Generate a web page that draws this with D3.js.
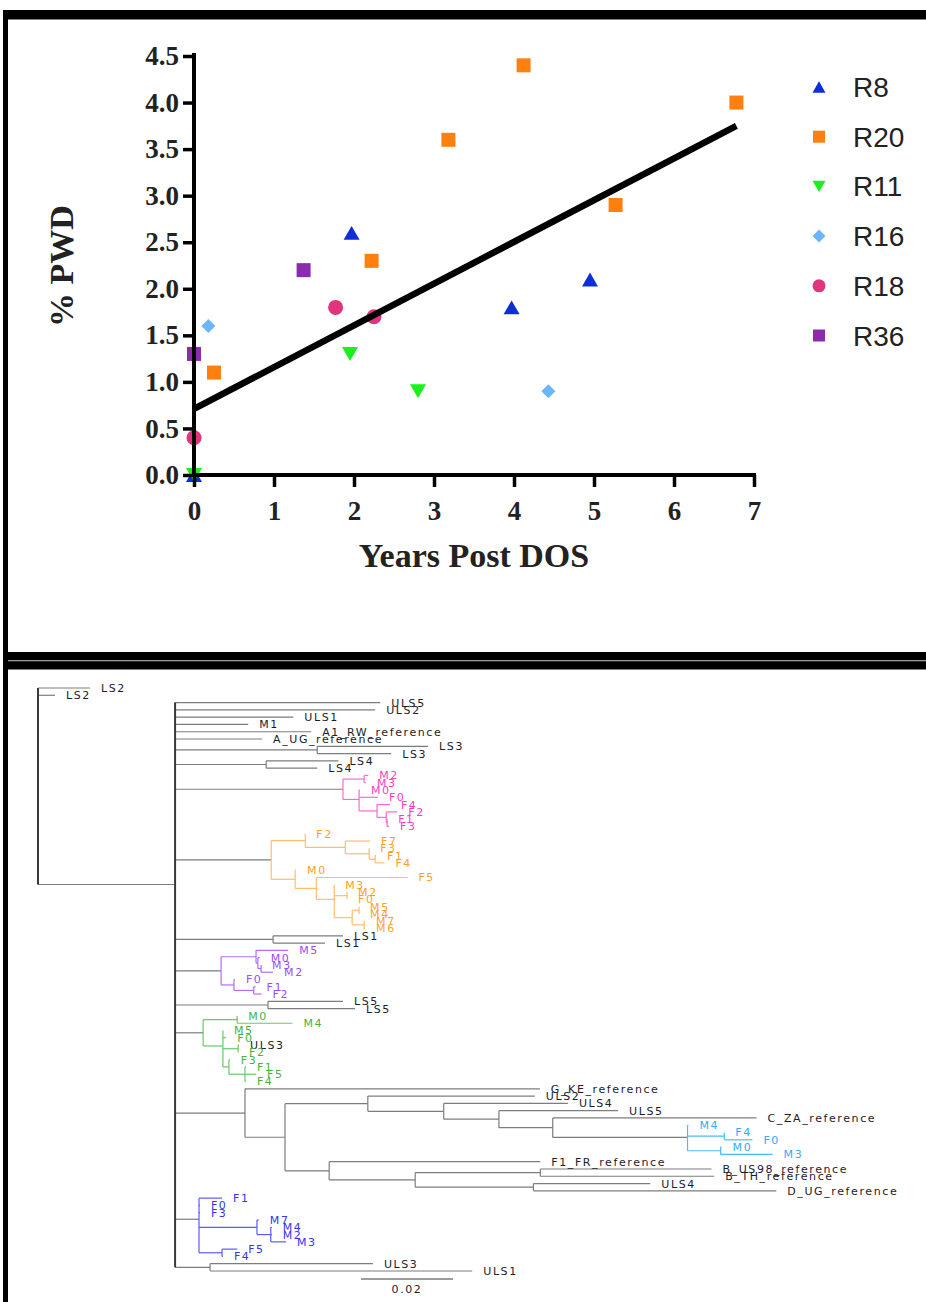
<!DOCTYPE html>
<html><head><meta charset="utf-8">
<script src="https://cdn.jsdelivr.net/npm/d3@7"></script>
<style>body{margin:0;background:#fff}</style>
</head><body><svg id="c" width="926" height="1302"></svg>
<script>
// ---------------- scatter data ----------------
const seriesNames = ["R8","R20","R11","R16","R18","R36"];
const r8Years  = [0, 1.97, 3.97, 4.95];            const r8Pwd  = [0, 2.6, 1.8, 2.1];
const r20Years = [0.25, 2.22, 3.18, 4.12, 5.27, 6.78]; const r20Pwd = [1.1, 2.3, 3.6, 4.4, 2.9, 4.0];
const r11Years = [0, 1.95, 2.8];                   const r11Pwd = [0, 1.3, 0.9];
const r16Years = [0.18, 4.43];                     const r16Pwd = [1.6, 0.9];
const r18Years = [0, 1.77, 2.25];                  const r18Pwd = [0.4, 1.8, 1.7];
const r36Years = [0, 1.37];                        const r36Pwd = [1.3, 2.2];
const fitYears = [0, 6.78];                        const fitPwd = [0.71, 3.75];
const xTicks = [0,1,2,3,4,5,6,7];
const yTicks = [0,0.5,1,1.5,2,2.5,3,3.5,4,4.5];
const xTitle = "Years Post DOS";
const yTitle = "% PWD";

// ---------------- tree data: [id, parent, branch length, label, clade, labelColourOverride] ----------------
const treeNodes = [
 ["root",null,0,"",""],
 ["n_ls2a","root",0.0113,"LS2",""],
 ["n_ls2b","root",0.0037,"LS2",""],
 ["main","root",0.0298,"",""],
 ["t1","main",0.0446,"ULS5",""],
 ["t2","main",0.0435,"ULS2",""],
 ["t3","main",0.0257,"ULS1",""],
 ["t4","main",0.0159,"M1",""],
 ["t5","main",0.0296,"A1_RW_reference",""],
 ["t6","main",0.0189,"A_UG_reference",""],
 ["ls3","main",0.0309,"",""],
 ["t7","ls3",0.0241,"LS3",""],
 ["t8","ls3",0.0161,"LS3",""],
 ["ls4","main",0.0198,"",""],
 ["t9","ls4",0.0157,"LS4",""],
 ["t10","ls4",0.0111,"LS4",""],
 ["p0","main",0.0365,"","pink"],
 ["pA","p0",0.0046,"","pink"],
 ["p1","pA",0.0009,"M2","pink"],
 ["p2","pA",0.0004,"M3","pink"],
 ["pB","p0",0.0035,"","pink"],
 ["p3","pB",0.0002,"M0","pink"],
 ["p4","pB",0.0041,"F0","pink"],
 ["pC","pB",0.0039,"","pink"],
 ["p5","pC",0.0028,"F4","pink"],
 ["pD","pC",0.0020,"","pink"],
 ["p6","pD",0.0024,"F2","pink"],
 ["pE","pD",0.0002,"","pink"],
 ["p7","pE",0,"F1","pink"],
 ["p8","pE",0.0004,"F3","pink"],
 ["o0","main",0.0209,"","orange"],
 ["oP","o0",0.0074,"","orange"],
 ["o1","oP",0,"F2","orange"],
 ["oR","oP",0.0087,"","orange"],
 ["o2","oR",0.0054,"F7","orange"],
 ["oS","oR",0.0052,"","orange"],
 ["o3","oS",0,"F3","orange"],
 ["oT","oS",0.0013,"","orange"],
 ["o4","oT",0.0002,"F1","orange"],
 ["o5","oT",0.0020,"F4","orange"],
 ["oQ","o0",0.0052,"","orange"],
 ["o6","oQ",0.0002,"M0","orange"],
 ["oU","oQ",0.0046,"","orange"],
 ["o7","oU",0.0198,"F5","orange"],
 ["oV","oU",0.0039,"","orange"],
 ["o8","oV",0,"M3","orange"],
 ["oW","oV",0.0028,"","orange"],
 ["o9","oW",0,"M2","orange"],
 ["o10","oW",0,"F0","orange"],
 ["oX","oV",0.0039,"","orange"],
 ["oY","oX",0.0015,"","orange"],
 ["o11","oY",0,"M5","orange"],
 ["o12","oY",0,"M4","orange"],
 ["oZ","oX",0.0026,"","orange"],
 ["o13","oZ",0.0002,"M7","orange"],
 ["o14","oZ",0.0002,"M6","orange"],
 ["ls1","main",0.0213,"",""],
 ["t11","ls1",0.0152,"LS1",""],
 ["t12","ls1",0.0113,"LS1",""],
 ["u0","main",0.0100,"","purple"],
 ["uA","u0",0.0076,"","purple"],
 ["u1","uA",0.0070,"M5","purple"],
 ["uA2","uA",0.0004,"","purple"],
 ["u2","uA2",0.0004,"M0","purple"],
 ["uA3","uA2",0.0007,"","purple"],
 ["u3","uA3",0,"M3","purple"],
 ["u4","uA3",0.0026,"M2","purple"],
 ["uB","u0",0.0028,"","purple"],
 ["u5","uB",0.0002,"F0","purple"],
 ["uB2","uB",0.0043,"","purple"],
 ["u6","uB2",0.0004,"F1","purple"],
 ["u7","uB2",0.0017,"F2","purple"],
 ["ls5","main",0.0202,"",""],
 ["t13","ls5",0.0163,"LS5",""],
 ["t14","ls5",0.0189,"LS5",""],
 ["g0","main",0.0061,"","green"],
 ["gA","g0",0.0074,"","green"],
 ["g1","gA",0,"M0","green"],
 ["g2","gA",0.0120,"M4","green"],
 ["gB","g0",0.0043,"","green"],
 ["g3","gB",0,"M5","green"],
 ["g4","gB",0.0007,"F0","green"],
 ["gC","gB",0.0033,"","green"],
 ["g5","gC",0.0002,"ULS3","green","k"],
 ["g6","gC",0,"F2","green"],
 ["gD","gB",0.0013,"","green"],
 ["g7","gD",0.0002,"F3","green"],
 ["gE","gD",0.0035,"","green"],
 ["g8","gE",0.0002,"F1","green"],
 ["g9","gE",0.0024,"F5","green"],
 ["g10","gE",0.0002,"F4","green"],
 ["r0","main",0.0152,"",""],
 ["t15","r0",0.0641,"G_KE_reference",""],
 ["r1","r0",0.0087,"",""],
 ["r2","r1",0.0180,"",""],
 ["t16","r2",0.0363,"ULS2",""],
 ["r4","r2",0.0165,"",""],
 ["t17","r4",0.0270,"ULS4",""],
 ["r5","r4",0.0120,"",""],
 ["t18","r5",0.0259,"ULS5",""],
 ["r6","r5",0.0117,"",""],
 ["t19","r6",0.0443,"C_ZA_reference",""],
 ["c0","r6",0.0293,"","cyan"],
 ["c1","c0",0.0002,"M4","cyan"],
 ["cK1","c0",0.0080,"","cyan"],
 ["c2","cK1",0,"F4","cyan"],
 ["c3","cK1",0.0061,"F0","cyan"],
 ["cK2","c0",0.0072,"","cyan"],
 ["c4","cK2",0.0002,"M0","cyan"],
 ["c5","cK2",0.0113,"M3","cyan"],
 ["r3","r1",0.0096,"",""],
 ["t20","r3",0.0459,"F1_FR_reference",""],
 ["r7","r3",0.0187,"",""],
 ["r8","r7",0.0272,"",""],
 ["t21","r8",0.0372,"B_US98_reference",""],
 ["t22","r8",0.0378,"B_TH_reference",""],
 ["r9","r7",0.0257,"",""],
 ["t23","r9",0.0254,"ULS4",""],
 ["t24","r9",0.0528,"D_UG_reference",""],
 ["b0","main",0.0052,"","blue"],
 ["b1x","b0",0.0050,"F1","blue"],
 ["b2x","b0",0.0002,"F0","blue"],
 ["b3x","b0",0.0002,"F3","blue"],
 ["b1","b0",0.0126,"","blue"],
 ["b4","b1",0.0004,"M7","blue"],
 ["b3","b1",0.0030,"","blue"],
 ["b5","b3",0.0002,"M4","blue"],
 ["b6","b3",0.0002,"M2","blue"],
 ["b7","b3",0.0033,"M3","blue"],
 ["b2","b0",0.0050,"","blue"],
 ["b8","b2",0.0033,"F5","blue"],
 ["b9","b2",0.0002,"F4","blue"],
 ["uls","main",0.0076,"",""],
 ["t25","uls",0.0354,"ULS3",""],
 ["t26","uls",0.0570,"ULS1",""]
];
const scaleBarValue = 0.02;
const scaleBarLabel = "0.02";

// ---------------- styles ----------------
const seriesColor = {R8:"#0d2ed6", R20:"#ff7f0f", R11:"#19f01e", R16:"#6db5fb", R18:"#e0357c", R36:"#8a2cad"};
const cladeLine = {pink:"#ff6ad0", orange:"#ffbd6b", purple:"#b46bff", green:"#6cc66c", cyan:"#4cbcf4", blue:"#5a5aff", "":"#7d7d7d"};
const cladeText = {pink:"#ff3cc0", orange:"#ffa11e", purple:"#9c4cff", green:"#45b33a", cyan:"#33aaff", blue:"#3434f0", "":"#1c1c2a", k:"#1c1c2a"};

const svg = d3.select("#c");

// frame bars
svg.append("rect").attr("x",3).attr("y",10).attr("width",923).attr("height",9.5).attr("fill","#000");
svg.append("rect").attr("x",3).attr("y",10).attr("width",5).attr("height",1292).attr("fill","#000");
svg.append("rect").attr("x",3).attr("y",652).attr("width",923).attr("height",17.5).attr("fill","#000");
svg.append("rect").attr("x",8).attr("y",660).attr("width",918).attr("height",1.3).attr("fill","#9a9a9a");

// ---------------- scatter ----------------
const x = d3.scaleLinear().domain([0,7]).range([194,754]);
const y = d3.scaleLinear().domain([0,4.5]).range([475,56]);

const shapes = {
  triUp:{draw(c,s){const h=s*0.87; c.moveTo(0,-h/2); c.lineTo(s/2,h/2); c.lineTo(-s/2,h/2); c.closePath();}},
  triDown:{draw(c,s){const h=s*0.87; c.moveTo(0,h/2); c.lineTo(s/2,-h/2); c.lineTo(-s/2,-h/2); c.closePath();}},
  square:{draw(c,s){c.rect(-s/2,-s/2,s,s);}},
  diamond:{draw(c,s){c.moveTo(0,-s/2); c.lineTo(s/2,0); c.lineTo(0,s/2); c.lineTo(-s/2,0); c.closePath();}},
  circle:{draw(c,s){c.moveTo(s/2,0); c.arc(0,0,s/2,0,2*Math.PI);}}
};
const seriesShape = {R8:"triUp", R20:"square", R11:"triDown", R16:"diamond", R18:"circle", R36:"square"};
const seriesSize = {R8:16, R20:14, R11:16, R16:14, R18:15, R36:14};
const legendSize = {R8:13, R20:12, R11:13, R16:13, R18:13, R36:12};

const series = [
  ["R8", r8Years, r8Pwd], ["R20", r20Years, r20Pwd], ["R11", r11Years, r11Pwd],
  ["R16", r16Years, r16Pwd], ["R18", r18Years, r18Pwd], ["R36", r36Years, r36Pwd]
];
const pts = svg.append("g");
series.forEach(([name, xs, ys]) => {
  const sym = d3.symbol().type(shapes[seriesShape[name]]).size(seriesSize[name]);
  pts.selectAll(null).data(xs.map((v,i)=>[v,ys[i]])).enter().append("path")
    .attr("d", sym).attr("fill", seriesColor[name])
    .attr("transform", d => `translate(${x(d[0])},${y(d[1])})`);
});

// regression line
svg.append("path")
  .datum(fitYears.map((v,i)=>[v,fitPwd[i]]))
  .attr("d", d3.line().x(d=>x(d[0])).y(d=>y(d[1])))
  .attr("stroke","#000").attr("stroke-width",6.5).attr("fill","none");

// axes
const serif = "'Liberation Serif','Times New Roman',serif";
const gy = svg.append("g").attr("transform","translate(194,0)")
  .call(d3.axisLeft(y).tickValues(yTicks).tickFormat(d3.format(".1f")).tickSize(11).tickPadding(4));
gy.select(".domain").attr("stroke","#000").attr("stroke-width",4).attr("d","M0,53V477");
gy.selectAll(".tick line").attr("stroke","#000").attr("stroke-width",3.5);
gy.selectAll(".tick text").attr("font-family",serif).attr("font-weight","bold").attr("font-size",27).attr("fill","#222");

const gx = svg.append("g").attr("transform","translate(0,475)")
  .call(d3.axisBottom(x).tickValues(xTicks).tickFormat(d3.format("d")).tickSize(12).tickPadding(14));
gx.select(".domain").attr("stroke","#000").attr("stroke-width",4).attr("d","M192,0H756");
gx.selectAll(".tick line").attr("stroke","#000").attr("stroke-width",3.5);
gx.selectAll(".tick text").attr("font-family",serif).attr("font-weight","bold").attr("font-size",27).attr("fill","#222");

svg.append("text").attr("x",474).attr("y",567).attr("text-anchor","middle")
  .attr("font-family",serif).attr("font-weight","bold").attr("font-size",34).attr("fill","#222").text(xTitle);
svg.append("text").attr("transform","translate(73,266) rotate(-90)").attr("text-anchor","middle")
  .attr("font-family",serif).attr("font-weight","bold").attr("font-size",34).attr("fill","#222").text(yTitle);

// legend
const leg = svg.append("g");
seriesNames.forEach((name,i) => {
  const ly = 87 + i*49.7;
  leg.append("path").attr("d", d3.symbol().type(shapes[seriesShape[name]]).size(legendSize[name])())
    .attr("fill", seriesColor[name]).attr("transform",`translate(819,${ly})`);
  leg.append("text").attr("x",853).attr("y",ly).attr("dy","0.36em")
    .attr("font-family","'Liberation Sans',Arial,sans-serif").attr("font-size",28).attr("fill","#222").text(name);
});

// ---------------- tree ----------------
const root = d3.stratify().id(d=>d[0]).parentId(d=>d[1])(treeNodes);
root.eachBefore(n => { n.dist = n.parent ? n.parent.dist + n.data[2] : 0; });
const leaves = root.leaves();
const xT = d3.scaleLinear().domain([0, scaleBarValue]).range([38, 130]);
const yT = d3.scaleLinear().domain([0, leaves.length-1]).range([688, 1271]);
leaves.forEach((l,i) => { l.yy = yT(i); });
root.eachAfter(n => { if (n.children) n.yy = d3.mean(n.children, c => c.yy); });

const gt = svg.append("g").attr("fill","none");
// horizontal branches
root.descendants().filter(n=>n.parent).forEach(n => {
  gt.append("line").attr("x1",xT(n.parent.dist)).attr("x2",xT(n.dist)).attr("y1",n.yy).attr("y2",n.yy)
    .attr("stroke", cladeLine[n.parent.data[4]]).attr("stroke-width",1.2);
});
// vertical connectors
root.descendants().filter(n=>n.children).forEach(n => {
  const big = (n.id==="root"||n.id==="main");
  gt.append("line").attr("x1",xT(n.dist)).attr("x2",xT(n.dist))
    .attr("y1",n.children[0].yy).attr("y2",n.children[n.children.length-1].yy)
    .attr("stroke", big ? "#3a3a3a" : cladeLine[n.data[4]]).attr("stroke-width", big ? 2 : 1.2);
});
// tip labels
const tl = svg.append("g").attr("font-family","'DejaVu Sans',Verdana,sans-serif").attr("font-size",11).attr("letter-spacing","1.6px");
leaves.forEach(l => {
  tl.append("text").attr("x", xT(l.dist)+11).attr("y", l.yy).attr("dy","0.36em")
    .attr("fill", cladeText[l.data[5] || l.data[4]]).text(l.data[3]);
});
// scale bar
const sbX = 361;
svg.append("line").attr("x1",sbX).attr("x2",sbX + xT(scaleBarValue)-xT(0)).attr("y1",1279).attr("y2",1279)
  .attr("stroke","#7d7d7d").attr("stroke-width",1.3);
svg.append("text").attr("x",sbX + (xT(scaleBarValue)-xT(0))/2).attr("y",1289).attr("dy","0.36em")
  .attr("text-anchor","middle").attr("font-family","'DejaVu Sans',Verdana,sans-serif").attr("font-size",11)
  .attr("letter-spacing","1.6px").attr("fill","#1c1c2a").text(scaleBarLabel);
</script></body></html>
